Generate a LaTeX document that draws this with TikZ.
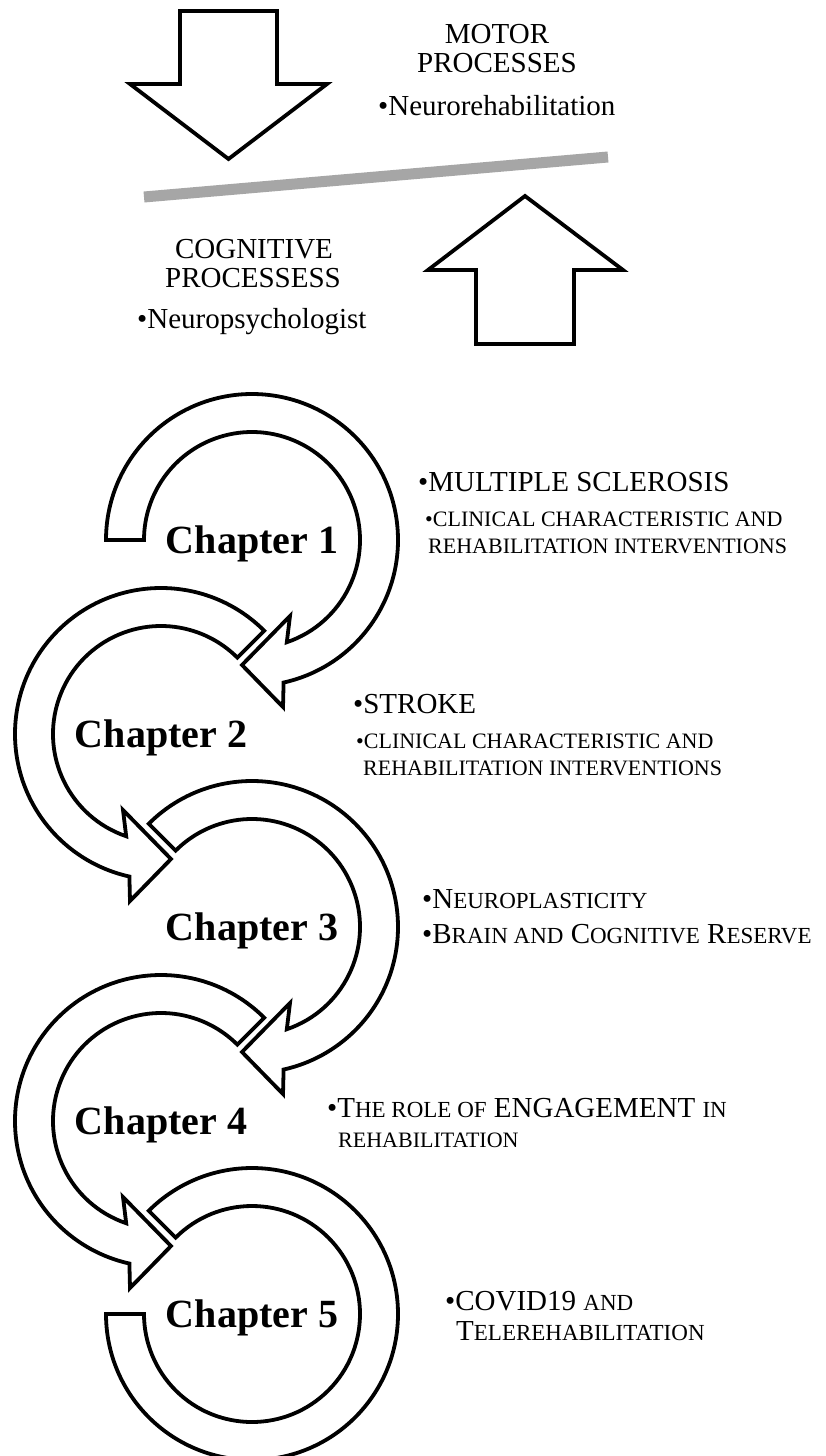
\documentclass[tikz,border=0pt]{standalone}
\usepackage{fontspec}
\setmainfont{Liberation Serif}
\definecolor{bargray}{RGB}{166,166,166}
% smaller capitals used for the small-caps look
\newcommand\lowcap[1]{{\fontsize{23}{23}\selectfont #1}}
\begin{document}
\begin{tikzpicture}[x=1pt,y=1pt,
  outline/.style={draw=black, fill=white, line width=3.8pt, line join=miter, miter limit=20},
  tiltbar/.style={draw=bargray, line width=11pt},
  txt/.style={inner sep=0pt, font=\fontsize{29}{29}\selectfont},
  sctxt/.style={inner sep=0pt, font=\fontsize{22}{22}\selectfont},
  chap/.style={inner sep=0pt, font=\fontsize{40}{40}\selectfont\bfseries}]

\useasboundingbox (0,-1456) rectangle (826,0);
\fill[white] (0,-1456) rectangle (826,0);

% ---- balance: two block arrows and a tilted beam ----
\draw[outline] (180,-11) -- (277,-11) -- (277,-84) -- (327,-84) -- (228.5,-159)
  -- (130,-84) -- (180,-84) -- cycle;
\draw[outline] (476,-344) -- (574,-344) -- (574,-270) -- (623,-270) -- (525,-196)
  -- (428,-270) -- (476,-270) -- cycle;
\coordinate (beamL) at (144,-197);
\coordinate (beamR) at (608,-157);
\draw[tiltbar] (beamL) -- (beamR);

\node[txt, anchor=base] (motor) at (497,-43) {MOTOR};
\node[txt, anchor=base] (motorb) at (497,-72) {PROCESSES};
\node[txt, anchor=base west] (neurorehab) at (378,-115) {•Neurorehabilitation};
\node[txt, anchor=base] (cogn) at (254,-258) {COGNITIVE};
\node[txt, anchor=base] (cognb) at (253,-287) {PROCESSESS};
\node[txt, anchor=base west] (neuropsy) at (137,-328) {•Neuropsychologist};

% ---- chain of circular arrows ----
% clockwise ring from angle #1 ending in an arrowhead at the bottom
\newcommand\cwring[2]{%
  \begin{scope}[shift={#2}]
    \draw[outline] (#1:146) arc[start angle=#1, end angle=-77.5, radius=146]
      -- (31,-167) -- (-10,-125) -- (38,-76) -- (-71.2:108)
      arc[start angle=-71.2, end angle=#1, radius=108] -- cycle;
  \end{scope}}
% counter-clockwise ring from angle #1 ending in an arrowhead at the bottom
\newcommand\ccwring[2]{%
  \begin{scope}[shift={#2}]
    \draw[outline] (#1:146) arc[start angle=#1, end angle=257.5, radius=146]
      -- (-31,-167) -- (10,-125) -- (-38,-76) -- (251.2:108)
      arc[start angle=251.2, end angle=#1, radius=108] -- cycle;
  \end{scope}}

\cwring{180}{(252,-540)}
\ccwring{45}{(161,-734)}
\cwring{135}{(252,-927)}
\ccwring{45}{(161,-1121)}
\begin{scope}[shift={(252,-1314)}]
  \draw[outline] (180:146) arc[start angle=180, end angle=495, radius=146]
    -- (495:108) arc[start angle=495, end angle=180, radius=108] -- cycle;
\end{scope}

\node[chap, anchor=base] (ch1) at (252,-553) {Chapter 1};
\node[chap, anchor=base] (ch2) at (161,-747) {Chapter 2};
\node[chap, anchor=base] (ch3) at (252,-940) {Chapter 3};
\node[chap, anchor=base] (ch4) at (161,-1134) {Chapter 4};
\node[chap, anchor=base] (ch5) at (252,-1327) {Chapter 5};

% ---- chapter topics ----
\node[txt, anchor=base west] (msa) at (418,-491) {•MULTIPLE SCLEROSIS};
\node[sctxt, anchor=base west] (msb) at (425,-526) {•CLINICAL CHARACTERISTIC AND};
\node[sctxt, anchor=base west] (msc) at (428,-553) {REHABILITATION INTERVENTIONS};

\node[txt, anchor=base west] (sta) at (353,-713) {•STROKE};
\node[sctxt, anchor=base west] (stb) at (356,-748) {•CLINICAL CHARACTERISTIC AND};
\node[sctxt, anchor=base west] (stc) at (363,-775) {REHABILITATION INTERVENTIONS};

\node[txt, anchor=base west] (npa) at (422,-908) {•N\lowcap{EUROPLASTICITY}};
\node[txt, anchor=base west] (npb) at (422,-943) {•B\lowcap{RAIN AND} C\lowcap{OGNITIVE} R\lowcap{ESERVE}};

\node[txt, anchor=base west] (ena) at (327,-1117) {•T\lowcap{HE ROLE OF} ENGAGEMENT \lowcap{IN}};
\node[sctxt, anchor=base west] (enb) at (338,-1147) {REHABILITATION};

\node[txt, anchor=base west] (cva) at (445,-1310) {•COVID19 \lowcap{AND}};
\node[txt, anchor=base west] (cvb) at (456,-1340) {T\lowcap{ELEREHABILITATION}};
\end{tikzpicture}
\end{document}
